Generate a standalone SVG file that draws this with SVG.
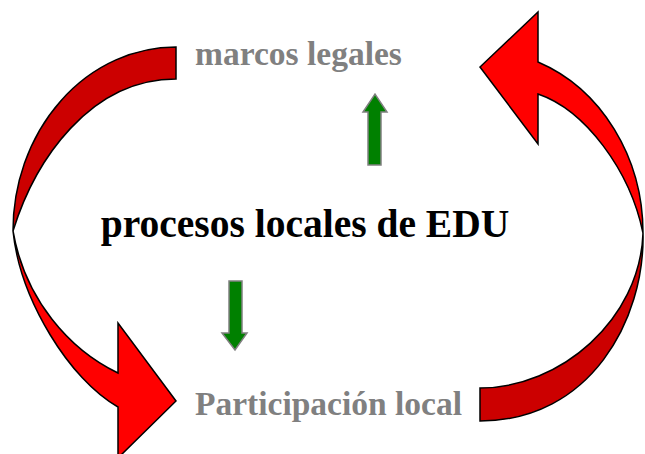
<svg xmlns="http://www.w3.org/2000/svg" width="645" height="454" viewBox="0 0 645 454">
<style>
.dark{fill:#CC0000;stroke:#000;stroke-width:1.5;stroke-linejoin:miter}
.bright{fill:#FF0000;stroke:#000;stroke-width:1.5;stroke-linejoin:miter}
.green{fill:#008000;stroke:#808080;stroke-width:1.5}
.label{font-family:"Liberation Serif","Times New Roman",serif;font-weight:bold;font-size:33.5px;fill:#808080}
.main{font-family:"Liberation Serif","Times New Roman",serif;font-weight:bold;font-size:39.5px;fill:#000}
</style>
<rect width="645" height="454" fill="#fff"/>
<g id="connectors">
<g id="left-curved-arrow">
<path class="dark" d="M176,47 A163,184 0 0 0 13,231 C 35,160 90,79 176,79 Z"/>
<path class="bright" d="M13,231 C 20,300 70,380 118,407 L118,458 L176,401 L118,323 L118,373 C 70,350 25,300 13,231 Z"/>
</g>
<g id="right-curved-arrow">
<path class="dark" d="M480,421 C 590,421 645,320 643,233 C 640,320 560,388 480,388 Z"/>
<path class="bright" d="M643,233 A163,183 0 0 0 538,62 L538,12 L480,67 L538,144 L538,94 C 585,110 630,170 643,233 Z"/>
</g>
<path id="up-arrow" class="green" d="M368,165 L368,112 L363,112 L375,94 L387,112 L381,112 L381,165 Z"/>
<path id="down-arrow" class="green" d="M229,281 L242,281 L242,333 L247,333 L235,350 L222,333 L229,333 Z"/>
</g>
<g id="node-marcos"><text class="label" x="195" y="65">marcos legales</text></g>
<g id="node-edu"><text class="main" x="305" y="237" text-anchor="middle">procesos locales de EDU</text></g>
<g id="node-participacion"><text class="label" x="195" y="415">Participación local</text></g>
</svg>
